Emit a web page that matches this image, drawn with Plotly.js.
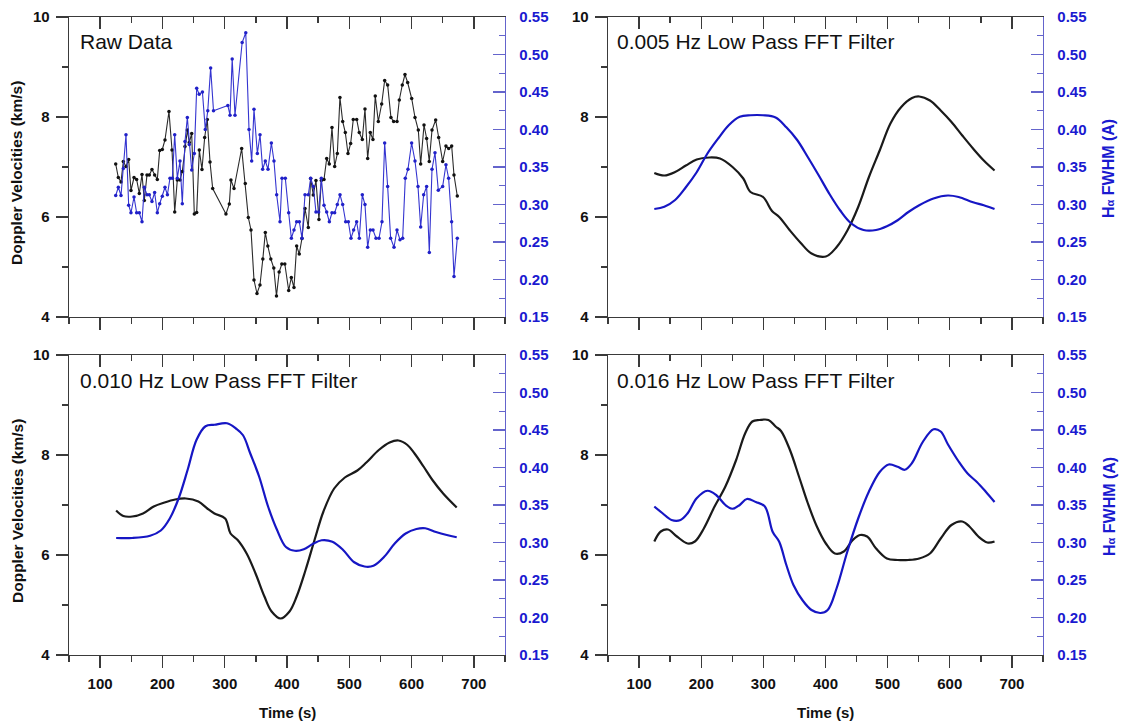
<!DOCTYPE html>
<html>
<head>
<meta charset="utf-8">
<script src="https://cdn.plot.ly/plotly-3.0.1.min.js"></script>
<style>html,body{margin:0;padding:0;background:#fff;}#chart{width:1124px;height:725px;}</style>
</head>
<body>
<div id="chart"></div>
<script>
// ---------- DATA ----------
// Raw data: Doppler velocity (km/s)
const rawVelTime = [125,129.2,133.5,137.2,141.5,145.8,149.5,154.4,158.6,162.9,167.2,170.9,175.2,178.9,183.2,187.5,191.8,195.6,199.8,204.1,210.5,215.4,219.7,223.9,228.2,231.9,236.2,240,243.1,247,251.2,255,259.2,263.5,267.8,272,276.4,280.7,302,307.4,310,314.9,327.2,333,337.9,342.2,347,351.8,356.6,361.2,365.2,369.2,374,378.8,383.1,387.4,391.7,396.5,402.7,406.9,411.2,415.5,419.7,424,428.9,434.2,438,442.2,446.5,451.3,455.1,459.4,463.7,467.9,472.2,476.5,480.8,485,489.4,493.6,497.9,502.2,506.4,511.9,516,520.9,525.2,529.5,533.7,538,541.7,546.6,552,556.8,561.6,566.9,571.2,576.6,580.3,585.1,589.4,593.7,600.2,605.5,610.8,614.6,620,624.2,628.4,632.8,638.7,643.5,649.9,655.2,659.6,664.4,668.1,673.4];
const rawVel = [7.06,6.79,6.70,7.11,7.01,7.15,6.53,6.79,6.75,6.47,6.85,6.33,6.84,6.84,6.95,6.84,6.75,7.33,7.35,7.54,8.11,7.34,6.10,6.74,6.74,6.91,7.41,7.74,7.49,7.67,6.06,6.09,7.34,6.95,7.59,7.95,7.10,6.57,6.06,6.26,6.74,6.57,7.37,6.67,5.99,5.74,4.74,4.47,4.64,5.16,5.69,5.42,5.16,4.98,4.42,4.90,5.06,5.06,4.53,4.79,4.59,5.42,5.26,5.57,6.17,5.79,6.77,6.44,6.73,5.95,6.73,6.75,7.17,7.06,7.79,7.01,7.27,8.39,7.91,7.69,7.27,7.47,7.95,7.95,7.69,7.55,8.16,7.17,7.69,7.55,8.42,7.91,8.26,8.73,8.64,7.99,7.91,7.91,8.34,8.64,8.85,8.69,8.37,7.99,7.74,7.06,7.84,7.57,7.11,7.74,7.94,7.59,7.11,7.42,7.37,7.42,6.84,6.42];
// Raw data: H-alpha FWHM (A)
const rawFwhmTime = [125,129.2,133.5,137.2,141.5,145.8,149.5,154.4,158.6,162.9,167.2,170.9,175.2,178.9,183.2,187.5,191.8,195.6,199.8,204.1,208,212.1,215.9,219.7,223.9,228.2,231.9,236.2,240,243.1,247,251.2,255,259,264.2,268.8,272.8,277.4,282,305,308.5,312,316.5,328,333.8,339,343.3,347,352.4,356.7,360.9,365.2,369.5,374.9,379.1,383.4,388.8,392,397.3,402.7,407,411.2,415.5,419.8,424.1,428.9,434.2,438,442.3,446.5,450.8,455.1,459.4,463.7,468,472.2,476.5,480.8,485.1,489.4,494.2,498.5,502.7,507,511.8,516.1,520.9,525.2,529.5,533.8,538.1,542.9,547.7,552.5,556.8,561.6,566.4,571.8,576.6,581.4,585.7,589.9,594.2,600.1,605.5,610.3,614.6,619.4,624.2,628.5,632.8,637.6,642.9,649.9,655.2,659.5,664.3,668.1,673.4];
const rawFwhm = [0.312,0.323,0.312,0.348,0.393,0.299,0.289,0.310,0.289,0.289,0.277,0.323,0.313,0.313,0.304,0.316,0.289,0.301,0.311,0.323,0.313,0.335,0.335,0.393,0.335,0.358,0.301,0.384,0.416,0.380,0.346,0.368,0.455,0.447,0.450,0.400,0.425,0.482,0.425,0.432,0.419,0.494,0.419,0.516,0.529,0.400,0.358,0.427,0.368,0.393,0.347,0.358,0.347,0.382,0.358,0.313,0.277,0.335,0.335,0.289,0.255,0.266,0.277,0.277,0.255,0.313,0.313,0.335,0.324,0.290,0.290,0.335,0.299,0.290,0.277,0.289,0.289,0.300,0.313,0.300,0.277,0.277,0.255,0.266,0.277,0.255,0.313,0.300,0.243,0.266,0.266,0.255,0.255,0.277,0.382,0.324,0.255,0.243,0.266,0.253,0.255,0.335,0.347,0.382,0.358,0.324,0.270,0.313,0.324,0.236,0.347,0.369,0.319,0.324,0.353,0.335,0.277,0.204,0.255];

// 0.005 Hz low pass
const f005VelTime = [124.5,140.7,158,175.3,192.7,212.9,230.2,250.4,267.7,279.3,299.5,313.9,325.5,342.8,360.2,377.5,400.6,418,435.2,452.6,469.9,487.2,504.5,521.9,539.2,550.8,568.1,585.4,602.7,620.1,637.4,654.7,672];
const f005Vel = [6.88,6.83,6.90,7.03,7.15,7.19,7.17,7.00,6.77,6.50,6.40,6.12,6.00,5.73,5.48,5.27,5.21,5.40,5.73,6.20,6.80,7.33,7.87,8.20,8.38,8.41,8.33,8.13,7.90,7.63,7.37,7.13,6.93];
const f005FwhmTime = [124.5,140.7,158,175.3,192.7,210,227.3,244.6,262,279.3,299.5,319.7,337,354.4,371.7,389,406.4,423.7,441,461.2,481.4,498.8,516.1,533.4,550.8,573.8,596.9,614.3,637.4,654.7,672];
const f005Fwhm = [0.294,0.297,0.306,0.323,0.343,0.368,0.388,0.406,0.417,0.419,0.419,0.416,0.403,0.386,0.363,0.339,0.314,0.292,0.275,0.266,0.266,0.271,0.279,0.290,0.299,0.308,0.312,0.310,0.303,0.299,0.294];

// 0.010 Hz low pass
const f010VelTime = [125.7,137.2,151.6,168.8,186,203.2,220.4,237.6,257.7,272,283.5,300.7,309.3,320.8,335.2,349.5,363.8,375.3,389.7,404,415.5,429.8,444.2,458.5,475.7,492.9,513,527.4,547.4,564.7,579,593.3,604.8,619.2,633.5,650.7,672.5];
const f010Vel = [6.89,6.78,6.77,6.83,6.97,7.05,7.11,7.13,7.07,6.93,6.83,6.73,6.43,6.30,6.03,5.63,5.17,4.87,4.73,4.87,5.17,5.70,6.30,6.87,7.33,7.55,7.69,7.85,8.10,8.25,8.29,8.20,8.03,7.77,7.50,7.23,6.95];
const f010FwhmTime = [125.7,151.6,180.2,197.4,211.8,226.1,240.5,254.8,269.2,283.5,303.6,318,329.4,340.9,355.2,369.6,383.9,398.3,412.6,427,441.3,455.6,472.9,490.1,507.3,524.5,538.8,556,573.3,590.5,607.7,622,639.2,656.5,672.5];
const f010Fwhm = [0.306,0.306,0.309,0.316,0.332,0.359,0.397,0.437,0.455,0.457,0.459,0.452,0.443,0.419,0.388,0.348,0.317,0.294,0.289,0.291,0.298,0.303,0.301,0.290,0.274,0.268,0.269,0.281,0.299,0.312,0.318,0.319,0.314,0.310,0.307];

// 0.016 Hz low pass
const f016VelTime = [124.5,134.9,146.5,160.9,178.2,189.8,204.2,221.5,238.9,256.2,270.6,282.2,293.7,308.2,319.7,328.4,342.8,357.3,371.7,386.1,400.6,415,429.5,443.9,455.5,467,481.4,498.8,516.1,533.4,550.8,568.1,585.4,602.7,620.1,631.6,646,660.5,672];
const f016Vel = [6.27,6.47,6.51,6.37,6.23,6.27,6.53,6.97,7.37,7.90,8.43,8.67,8.70,8.70,8.57,8.48,8.10,7.57,7.03,6.57,6.23,6.03,6.07,6.30,6.40,6.37,6.13,5.93,5.90,5.90,5.93,6.03,6.33,6.60,6.67,6.57,6.37,6.25,6.27];
const f016FwhmTime = [124.5,137.8,152.2,166.7,178.2,192.7,210,224.4,238.9,250.4,262,273.5,287.9,302.4,315.1,325.5,337,348.6,363,377.5,391.9,403.5,417.9,435.2,452.6,469.9,487.2,501.7,516.1,527.6,539.2,556.5,573.8,585.4,596.9,614.3,628.7,643.2,657.6,672];
const f016Fwhm = [0.348,0.339,0.330,0.330,0.339,0.359,0.369,0.363,0.350,0.345,0.350,0.358,0.354,0.348,0.314,0.301,0.270,0.243,0.223,0.210,0.206,0.210,0.239,0.288,0.332,0.368,0.394,0.404,0.401,0.397,0.406,0.434,0.451,0.448,0.431,0.408,0.392,0.381,0.368,0.354];

const panelLabels = ["Raw Data","0.005 Hz Low Pass FFT Filter","0.010 Hz Low Pass FFT Filter","0.016 Hz Low Pass FFT Filter"];
const xTitle = "Time (s)";
const yLeftTitle = "Doppler Velocities (km/s)";
const yRightTitle = "H<span style='font-size:11px'>α</span> FWHM (A)";

// ---------- LAYOUT ----------
const W = 1124, H = 725;
const fx = p => p / W, fy = p => 1 - p / H;
const cols = [[69, 505], [608, 1043]];
const rows = [[17, 317], [355, 655]];
const BLACK = '#1a1a1a', BLUE = '#1616c4', RAXIS = '#6464cc', AXIS = '#3a3a3a';
const FONT = 'Liberation Sans, Arial, Helvetica, sans-serif';

const layout = {
  width: W, height: H, margin: {l: 0, r: 0, t: 0, b: 0},
  paper_bgcolor: '#fff', plot_bgcolor: '#fff', showlegend: false,
  annotations: [], font: {family: FONT}
};
const traces = [];

const panels = [
  {vt: rawVelTime, v: rawVel, ft: rawFwhmTime, f: rawFwhm, raw: true},
  {vt: f005VelTime, v: f005Vel, ft: f005FwhmTime, f: f005Fwhm},
  {vt: f010VelTime, v: f010Vel, ft: f010FwhmTime, f: f010Fwhm},
  {vt: f016VelTime, v: f016Vel, ft: f016FwhmTime, f: f016Fwhm}
];

panels.forEach((p, i) => {
  const r = Math.floor(i / 2), c = i % 2;
  const xn = i + 1, xTop = i + 5, yl = 2 * i + 1, yr = 2 * i + 2;
  const xk = 'xaxis' + (xn === 1 ? '' : xn), ylk = 'yaxis' + (yl === 1 ? '' : yl), yrk = 'yaxis' + yr;
  const xid = 'x' + (xn === 1 ? '' : xn), ylid = 'y' + (yl === 1 ? '' : yl), yrid = 'y' + yr;
  const xdom = [fx(cols[c][0]), fx(cols[c][1])];
  const ydom = [fy(rows[r][1]), fy(rows[r][0])];
  const bottom = r === 1;
  layout[xk] = {
    domain: xdom, anchor: ylid, range: [50, 750], showgrid: false, zeroline: false,
    showline: true, linecolor: AXIS, linewidth: 1.3,
    ticks: 'outside', ticklen: 12, tickwidth: 1.3, tickcolor: AXIS,
    tick0: 0, dtick: 100, showticklabels: bottom, ticklabelstandoff: 3,
    tickfont: {family: FONT, size: 15, weight: 'bold', color: '#111'},
    minor: {dtick: 50, tick0: 0, ticks: 'outside', ticklen: 6, tickwidth: 1.3, tickcolor: AXIS, showgrid: false}
  };
  layout['xaxis' + xTop] = {
    overlaying: xid, anchor: ylid, side: 'top', range: [50, 750], showgrid: false, zeroline: false,
    showline: true, linecolor: AXIS, linewidth: 1.3,
    ticks: 'inside', ticklen: 12, tickwidth: 1.3, tickcolor: AXIS, tick0: 0, dtick: 100,
    showticklabels: false,
    minor: {dtick: 50, tick0: 0, ticks: 'inside', ticklen: 6, tickwidth: 1.3, tickcolor: AXIS, showgrid: false}
  };
  layout[ylk] = {
    domain: ydom, anchor: xid, range: [4, 10], showgrid: false, zeroline: false,
    showline: true, linecolor: AXIS, linewidth: 1.3,
    ticks: 'outside', ticklen: 12, tickwidth: 1.3, tickcolor: AXIS, tick0: 0, dtick: 2,
    ticklabelstandoff: 3,
    tickfont: {family: FONT, size: 15, weight: 'bold', color: '#111'},
    minor: {dtick: 1, tick0: 0, ticks: 'outside', ticklen: 6, tickwidth: 1.3, tickcolor: AXIS, showgrid: false}
  };
  layout[yrk] = {
    overlaying: ylid, anchor: xid, side: 'right', range: [0.15, 0.55], showgrid: false, zeroline: false,
    showline: true, linecolor: RAXIS, linewidth: 1.3,
    ticks: 'inside', ticklen: 12, tickwidth: 1.3, tickcolor: RAXIS, tick0: 0, dtick: 0.05, tickformat: '.2f',
    ticklabelstandoff: 10,
    tickfont: {family: FONT, size: 15, weight: 'bold', color: '#1a1ad0'},
    minor: {dtick: 0.025, tick0: 0, ticks: 'inside', ticklen: 6, tickwidth: 1.3, tickcolor: RAXIS, showgrid: false}
  };
  // empty trace so the top (inner-tick) axis is drawn
  traces.push({x: [], y: [], xaxis: 'x' + xTop, yaxis: ylid, mode: 'lines', hoverinfo: 'skip'});
  if (p.raw) {
    traces.push({x: p.vt, y: p.v, xaxis: xid, yaxis: ylid, mode: 'lines+markers',
      line: {color: '#2a2a2a', width: 1.1}, marker: {color: '#111', size: 3.5}});
    traces.push({x: p.ft, y: p.f, xaxis: xid, yaxis: yrid, mode: 'lines+markers',
      line: {color: '#3434d0', width: 1.1}, marker: {color: '#2020c8', size: 3.5, symbol: 'circle'}});
  } else {
    traces.push({x: p.vt, y: p.v, xaxis: xid, yaxis: ylid, mode: 'lines',
      line: {color: BLACK, width: 2.2, shape: 'spline', smoothing: 1}});
    traces.push({x: p.ft, y: p.f, xaxis: xid, yaxis: yrid, mode: 'lines',
      line: {color: BLUE, width: 2.2, shape: 'spline', smoothing: 1}});
  }
  // panel label
  layout.annotations.push({
    xref: 'paper', yref: 'paper', x: fx(cols[c][0] + (c === 0 ? 9 : 7)), y: fy(rows[r][0] + 25),
    xanchor: 'left', yanchor: 'middle', showarrow: false, text: panelLabels[i],
    font: {family: FONT, size: 21, color: '#111'}
  });
  if (c === 0) {
    layout.annotations.push({
      xref: 'paper', yref: 'paper', x: fx(17), y: fy((rows[r][0] + rows[r][1]) / 2 + 6),
      xanchor: 'center', yanchor: 'middle', showarrow: false, textangle: -90, text: yLeftTitle,
      font: {family: FONT, size: 15.5, weight: 'bold', color: '#111'}
    });
  } else {
    layout.annotations.push({
      xref: 'paper', yref: 'paper', x: fx(1109), y: fy((rows[r][0] + rows[r][1]) / 2 + 2),
      xanchor: 'center', yanchor: 'middle', showarrow: false, textangle: -90, text: yRightTitle,
      font: {family: FONT, size: 16, weight: 'bold', color: '#1a1ad0'}
    });
  }
  if (bottom) {
    layout.annotations.push({
      xref: 'paper', yref: 'paper', x: fx((cols[c][0] + cols[c][1]) / 2), y: fy(712),
      xanchor: 'center', yanchor: 'middle', showarrow: false, text: xTitle,
      font: {family: FONT, size: 15, weight: 'bold', color: '#111'}
    });
  }
});

Plotly.newPlot('chart', traces, layout, {displayModeBar: false, staticPlot: true});
</script>
</body>
</html>
